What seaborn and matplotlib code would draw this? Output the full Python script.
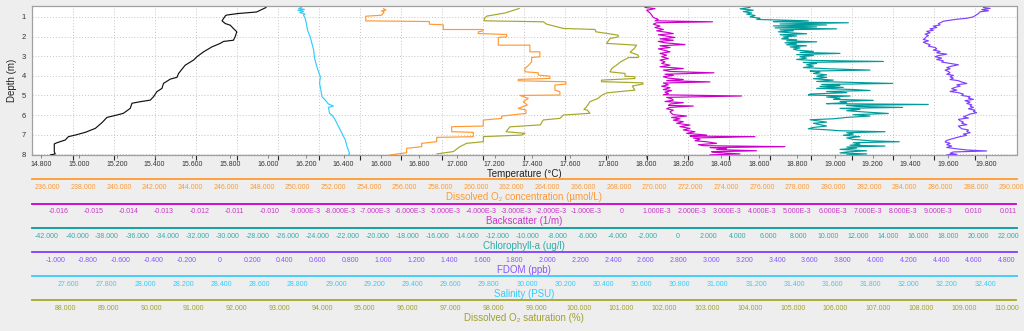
import numpy as np
import matplotlib
matplotlib.use("Agg")
import matplotlib.pyplot as plt
from matplotlib.ticker import FuncFormatter
import seaborn as sns

# ---------------- profile data (depth in m) ----------------
temp_depth = [0.52, 0.75, 0.83, 0.91, 0.95, 1.08, 1.20, 1.34, 1.42, 1.59, 1.76, 2.02, 2.19, 2.25,
              2.35, 2.53, 2.78, 3.03, 3.20, 3.46, 3.66, 3.88, 4.08, 4.17, 4.39, 4.64, 4.81, 5.07,
              5.24, 5.32, 5.40, 5.66, 5.91, 6.00, 6.12, 6.39, 6.68, 6.88, 7.02, 7.10, 7.27, 7.41,
              7.47, 7.87, 7.98, 8.03]
temperature = [15.99, 15.94, 15.84, 15.78, 15.774, 15.765, 15.757, 15.774, 15.80, 15.817, 15.835,
               15.826, 15.817, 15.765, 15.747, 15.703, 15.659, 15.624, 15.606, 15.562, 15.545,
               15.527, 15.518, 15.483, 15.447, 15.439, 15.412, 15.394, 15.377, 15.324, 15.28,
               15.271, 15.235, 15.20, 15.148, 15.121, 15.086, 15.033, 14.98, 14.944, 14.927,
               14.883, 14.869, 14.869, 14.874, 14.848]

sal_depth = [0.52, 0.57, 0.62, 0.66, 0.72, 0.78, 0.85, 0.91, 1.08, 1.34, 1.68, 2.02, 2.35, 2.69,
             3.12, 3.54, 3.80, 4.05, 4.39, 4.73, 5.07, 5.24, 5.44, 5.54, 5.61, 5.91, 6.00, 6.25,
             6.60, 6.93, 7.27, 7.61, 7.95, 8.03]
salinity = [28.82, 28.805, 28.835, 28.80, 28.83, 28.81, 28.838, 28.83, 28.839, 28.845, 28.851,
            28.865, 28.874, 28.883, 28.888, 28.90, 28.909, 28.918, 28.914, 28.921, 28.927,
            28.944, 28.961, 28.987, 28.961, 28.966, 28.979, 28.996, 29.014, 29.031, 29.049,
            29.058, 29.071, 29.066]

o2c_depth = [0.575, 0.65, 0.70, 0.744, 0.914, 0.965, 1.202, 1.236, 1.372, 1.406, 1.643, 1.643,
             1.711, 1.762, 1.847, 1.897, 2.016, 2.050, 2.440, 2.440, 2.779, 2.779, 3.033, 3.067,
             3.288, 3.457, 3.627, 3.796, 3.847, 3.966, 4.017, 4.135, 4.186, 4.254, 4.305, 4.424,
             4.475, 4.729, 4.814, 4.98, 5.00, 5.153, 5.322, 5.492, 5.661, 5.746, 5.916, 6.051,
             6.170, 6.255, 6.560, 6.594, 6.848, 6.882, 7.103, 7.137, 7.357, 7.442, 7.611, 7.696,
             7.917, 8.035]
o2_conc = [254.80, 254.95, 254.70, 254.85, 254.71, 253.82, 253.82, 257.38, 257.38, 258.16,
           258.16, 260.40, 260.40, 260.12, 260.12, 261.71, 261.71, 261.24, 261.24, 263.01,
           263.01, 263.57, 263.57, 263.11, 263.11, 262.95, 262.73, 262.73, 263.48, 263.48,
           264.13, 264.13, 262.36, 262.36, 265.03, 265.03, 264.41, 264.41, 264.69, 264.69,
           262.45, 262.92, 262.64, 262.86, 262.36, 262.79, 262.79, 261.43, 261.43, 260.40,
           260.40, 258.63, 258.63, 259.84, 259.84, 257.79, 257.79, 256.95, 256.95, 256.11,
           256.11, 255.18]

o2s_depth = [0.57, 0.80, 0.96, 1.08, 1.20, 1.25, 1.37, 1.59, 1.64, 1.76, 1.93, 2.02, 2.10, 2.35,
             2.44, 2.60, 2.80, 2.95, 3.07, 3.07, 3.29, 3.46, 3.63, 3.80, 3.88, 4.02, 4.05, 4.14,
             4.22, 4.30, 4.36, 4.42, 4.52, 4.73, 4.87, 5.00, 5.15, 5.32, 5.58, 5.71, 5.75, 5.91,
             6.00, 6.17, 6.25, 6.50, 6.60, 6.85, 6.93, 7.02, 7.10, 7.36, 7.44, 7.61, 7.86, 7.98]
o2_sat = [98.61, 98.28, 97.85, 97.79, 97.79, 99.17, 99.25, 99.64, 100.38, 100.40, 100.92, 100.92,
          100.73, 100.65, 101.35, 101.30, 101.20, 101.39, 101.39, 101.16, 100.98, 100.88, 100.77,
          100.73, 101.08, 101.08, 101.31, 101.31, 100.53, 100.53, 101.50, 101.50, 101.25, 101.31,
          100.65, 100.53, 100.45, 100.26, 100.18, 100.12, 100.20, 100.26, 99.64, 99.56, 99.17,
          99.10, 98.39, 98.30, 98.74, 98.66, 97.77, 97.77, 97.38, 97.22, 97.07, 96.68]

bs_depth = [0.52, 0.58, 0.66, 0.80, 0.91, 1.03, 1.13, 1.20, 1.25, 1.30, 1.37, 1.47, 1.54, 1.64,
            1.71, 1.80, 1.85, 1.91, 1.98, 2.05, 2.12, 2.19, 2.25, 2.32, 2.41, 2.47, 2.56, 2.63,
            2.69, 2.78, 2.86, 2.95, 3.03, 3.12, 3.20, 3.29, 3.37, 3.46, 3.54, 3.63, 3.71, 3.78,
            3.85, 3.92, 3.98, 4.05, 4.12, 4.19, 4.25, 4.31, 4.37, 4.46, 4.53, 4.61, 4.70, 4.76,
            4.83, 4.90, 4.97, 5.03, 5.10, 5.17, 5.24, 5.31, 5.37, 5.44, 5.51, 5.54, 5.61, 5.68,
            5.75, 5.83, 5.92, 5.98, 6.05, 6.12, 6.19, 6.26, 6.34, 6.42, 6.51, 6.59, 6.68, 6.76,
            6.85, 6.93, 7.02, 7.07, 7.10, 7.17, 7.24, 7.31, 7.36, 7.44, 7.51, 7.56, 7.61, 7.66,
            7.71, 7.76, 7.82, 7.87, 7.92, 7.98, 8.03]
bs_milli = [0.668, 0.952, 0.715, 0.810, 0.857, 0.904, 1.046, 0.952, 2.590, 0.999, 0.904, 1.094,
            0.952, 1.189, 0.999, 1.331, 1.473, 1.046, 1.283, 1.520, 1.094, 1.473, 1.046, 1.236,
            1.804, 1.094, 1.378, 1.046, 1.189, 1.378, 1.094, 1.283, 1.141, 1.331, 1.094, 1.236,
            1.141, 1.378, 1.094, 1.757, 1.189, 1.378, 2.628, 1.236, 1.473, 1.189, 1.331, 1.757,
            1.283, 2.514, 1.189, 1.331, 1.141, 1.378, 1.189, 1.425, 1.236, 1.331, 1.189, 3.414,
            1.283, 1.425, 1.473, 1.236, 1.757, 1.378, 1.331, 2.041, 1.378, 1.283, 1.473, 1.378,
            1.425, 1.473, 1.851, 1.425, 1.662, 1.473, 1.757, 1.567, 1.946, 1.662, 1.946, 1.757,
            2.088, 1.851, 2.420, 1.946, 3.793, 2.041, 2.230, 2.088, 2.420, 2.704, 2.183, 2.325,
            4.645, 2.514, 2.988, 2.704, 3.840, 2.562, 2.798, 3.367, 2.514]
backscatter = np.array(bs_milli) * 1e-3

chl_depth = [0.52, 0.59, 0.66, 0.73, 0.80, 0.86, 0.93, 1.00, 1.07, 1.13, 1.17, 1.20, 1.24, 1.27,
             1.30, 1.36, 1.41, 1.46, 1.51, 1.56, 1.61, 1.66, 1.71, 1.76, 1.81, 1.86, 1.91, 1.97,
             2.02, 2.07, 2.12, 2.17, 2.22, 2.27, 2.32, 2.37, 2.42, 2.47, 2.53, 2.58, 2.64, 2.69,
             2.76, 2.81, 2.86, 2.92, 2.97, 3.03, 3.10, 3.17, 3.22, 3.27, 3.32, 3.37, 3.44, 3.51,
             3.58, 3.64, 3.71, 3.76, 3.81, 3.88, 3.95, 4.02, 4.08, 4.15, 4.22, 4.29, 4.34, 4.39,
             4.44, 4.49, 4.54, 4.59, 4.64, 4.70, 4.75, 4.80, 4.86, 4.93, 4.98, 5.03, 5.08, 5.14,
             5.20, 5.25, 5.31, 5.37, 5.42, 5.46, 5.51, 5.56, 5.61, 5.66, 5.71, 5.78, 5.85, 5.92,
             5.98, 6.05, 6.12, 6.19, 6.24, 6.29, 6.36, 6.42, 6.49, 6.56, 6.63, 6.70, 6.75, 6.80,
             6.85, 6.90, 6.97, 7.03, 7.10, 7.17, 7.24, 7.31, 7.36, 7.41, 7.48, 7.54, 7.58, 7.63,
             7.68, 7.75, 7.82, 7.88, 7.93, 7.98, 8.03]
chlorophyll = [4.79, 4.13, 5.01, 4.35, 4.90, 4.57, 5.13, 4.79, 5.46, 5.24, 7.23, 8.67, 6.35, 7.90,
               11.34, 6.79, 9.89, 6.35, 9.23, 6.46, 10.56, 6.79, 7.68, 6.68, 7.46, 8.56, 6.79,
               7.90, 7.01, 7.34, 6.90, 7.90, 7.23, 9.23, 7.12, 7.90, 7.23, 8.56, 7.46, 8.12, 7.68,
               7.90, 9.01, 8.12, 10.78, 7.90, 9.01, 8.12, 8.56, 7.90, 9.01, 13.67, 8.34, 9.23,
               8.56, 9.01, 8.34, 9.89, 12.78, 8.79, 9.45, 9.01, 9.89, 9.23, 9.89, 9.01, 10.34,
               9.23, 11.67, 14.29, 9.56, 10.78, 9.45, 11.00, 9.23, 11.67, 12.78, 9.89, 11.23, 8.79,
               8.67, 11.45, 9.89, 10.78, 10.34, 13.00, 10.78, 11.23, 9.89, 16.66, 11.23, 11.89,
               14.95, 10.78, 12.11, 11.23, 12.56, 14.00, 11.67, 12.78, 11.23, 10.34, 8.79, 9.23,
               9.89, 9.01, 9.45, 9.89, 9.01, 8.67, 9.89, 10.78, 13.78, 11.23, 11.67, 11.00, 12.11,
               11.23, 11.67, 12.78, 14.73, 11.67, 12.11, 11.45, 13.78, 11.23, 11.89, 10.78, 12.56,
               11.23, 10.78, 12.56, 11.23]

fdom_depth = [0.52, 0.57, 0.63, 0.69, 0.74, 0.83, 0.91, 1.00, 1.07, 1.12, 1.17, 1.22, 1.27, 1.34,
              1.41, 1.47, 1.54, 1.61, 1.68, 1.74, 1.81, 1.88, 1.95, 2.02, 2.08, 2.15, 2.22, 2.29,
              2.36, 2.42, 2.49, 2.56, 2.63, 2.69, 2.76, 2.83, 2.90, 2.97, 3.03, 3.10, 3.17, 3.24,
              3.30, 3.37, 3.44, 3.51, 3.58, 3.64, 3.71, 3.78, 3.85, 3.92, 3.98, 4.05, 4.12, 4.19,
              4.25, 4.32, 4.39, 4.46, 4.53, 4.59, 4.66, 4.73, 4.80, 4.86, 4.93, 5.00, 5.07, 5.14,
              5.20, 5.27, 5.34, 5.41, 5.48, 5.54, 5.61, 5.68, 5.75, 5.81, 5.88, 5.95, 6.02, 6.09,
              6.15, 6.22, 6.29, 6.36, 6.42, 6.49, 6.56, 6.63, 6.70, 6.76, 6.83, 6.90, 6.97, 7.03,
              7.10, 7.17, 7.24, 7.31, 7.37, 7.44, 7.51, 7.58, 7.65, 7.71, 7.78, 7.83, 7.88, 7.95,
              8.00, 8.03]
fdom = [4.657, 4.698, 4.647, 4.688, 4.637, 4.627, 4.612, 4.596, 4.556, 4.495, 4.454, 4.413, 4.403,
        4.383, 4.393, 4.352, 4.373, 4.332, 4.352, 4.312, 4.332, 4.302, 4.322, 4.308, 4.302, 4.291,
        4.322, 4.291, 4.312, 4.332, 4.322, 4.363, 4.373, 4.352, 4.393, 4.373, 4.434, 4.383, 4.363,
        4.403, 4.373, 4.413, 4.403, 4.454, 4.505, 4.464, 4.434, 4.454, 4.424, 4.444, 4.454, 4.434,
        4.474, 4.454, 4.474, 4.454, 4.505, 4.525, 4.556, 4.495, 4.515, 4.484, 4.464, 4.495, 4.454,
        4.505, 4.535, 4.525, 4.576, 4.566, 4.596, 4.545, 4.576, 4.556, 4.586, 4.576, 4.596, 4.566,
        4.606, 4.596, 4.616, 4.576, 4.556, 4.535, 4.566, 4.505, 4.515, 4.535, 4.525, 4.556, 4.505,
        4.515, 4.525, 4.566, 4.556, 4.576, 4.535, 4.556, 4.515, 4.484, 4.454, 4.430, 4.424, 4.454,
        4.434, 4.464, 4.434, 4.484, 4.556, 4.677, 4.474, 4.454, 4.495, 4.434]

# ---------------- axis ranges and ticks ----------------
depth_range = (8.035, 0.42)
depth_ticks = [1, 2, 3, 4, 5, 6, 7, 8]
grid_divisions = 24

temp_range, temp_ticks = (14.751, 19.962), (14.8, 19.8, 0.2)
o2c_range, o2c_ticks = (235.13, 290.26), (236, 290, 2)
bs_range, bs_ticks = (-0.016756, 0.011227), (-0.016, 0.011, 0.001)
chl_range, chl_ticks = (-43.0, 22.53), (-42, 22, 2)
fdom_range, fdom_ticks = (-1.142, 4.859), (-1.0, 4.8, 0.2)
sal_range, sal_ticks = (27.408, 32.564), (27.6, 32.4, 0.2)
o2s_range, o2s_ticks = (87.22, 110.23), (88, 110, 1)

C_TEMP, C_SAL, C_O2C = "#111111", "#33ccff", "#ff9933"
C_O2S, C_BS, C_CHL, C_FDOM = "#a6a628", "#cc00cc", "#009b9b", "#8040ff"

sns.set_style("white")
plt.rcParams["font.family"] = ["Liberation Sans", "DejaVu Sans"]

W, H = 1024, 331
fig = plt.figure(figsize=(W / 100, H / 100), dpi=100, facecolor="#eeeeee")
L_PX, R_PX, T_PX, B_PX = 32, 1016.5, 5.5, 155


def fx(px):
    return px / W


def fy(py):
    return 1 - py / H


def tick_values(spec):
    a, b, s = spec
    n = int(round((b - a) / s))
    return np.round(a + s * np.arange(n + 1), 6)


def fmt_plain(v, _pos=None):
    return "0" if abs(v) < 1e-9 else f"{v:.3f}"


def fmt_backscatter(v, _pos=None):
    if abs(v) < 1e-9:
        return "0"
    if abs(v) < 0.0095:
        return f"{v * 1000:.3f}E-3"
    return f"{v:.3f}"


# host axes: white plot area with the evenly spaced dotted grid
ax = fig.add_axes([fx(L_PX), fy(B_PX), fx(R_PX - L_PX), (B_PX - T_PX) / H])
ax.set_facecolor("white")
ax.set_xlim(0, grid_divisions)
ax.set_xticks(np.arange(1, grid_divisions))
ax.tick_params(axis="x", bottom=False, labelbottom=False)
ax.set_yticks(depth_ticks)
ax.tick_params(axis="y", length=2.5, width=0.6, color="#777777", labelsize=5.5,
               labelcolor="#333333", pad=2)
ax.grid(True, color="#c4c4c4", linestyle=(0, (1, 2)), linewidth=0.7)
for sp in ax.spines.values():
    sp.set_color("#a0a0a0")
    sp.set_linewidth(0.9)
ax.set_ylabel("Depth (m)", fontsize=7, color="#222222", labelpad=3)

series = [
    (temp_depth, temperature, C_TEMP, temp_range),
    (sal_depth, salinity, C_SAL, sal_range),
    (o2c_depth, o2_conc, C_O2C, o2c_range),
    (o2s_depth, o2_sat, C_O2S, o2s_range),
    (bs_depth, backscatter, C_BS, bs_range),
    (chl_depth, chlorophyll, C_CHL, chl_range),
    (fdom_depth, fdom, C_FDOM, fdom_range),
]

twins = []
for depth, vals, col, lim in series:
    tw = ax.twiny()
    sns.lineplot(x=np.asarray(vals, dtype=float), y=np.asarray(depth, dtype=float), ax=tw,
                 sort=False, estimator=None, color=col, linewidth=0.85)
    tw.set_xlim(lim)
    tw.set_xlabel("")
    tw.set_ylabel("")
    for sp in tw.spines.values():
        sp.set_visible(False)
    tw.tick_params(axis="x", top=False, labeltop=False, bottom=False, labelbottom=False)
    twins.append(tw)
ax.set_ylim(depth_range)

# temperature scale along the bottom of the plot
t_ax = twins[0]
t_ax.xaxis.set_ticks_position("bottom")
t_ax.xaxis.set_label_position("bottom")
t_ax.set_xticks(tick_values(temp_ticks))
t_ax.xaxis.set_major_formatter(FuncFormatter(fmt_plain))
t_ax.tick_params(axis="x", bottom=True, labelbottom=True, length=2.5, width=0.6,
                 color="#777777", labelsize=5, labelcolor="#333333", pad=2)
t_ax.set_xlabel("Temperature (°C)", fontsize=7, color="#222222", labelpad=0.5)
t_ax.set_xlim(temp_range)

# stacked colour scales beneath the plot
scales = [
    (179, o2c_range, o2c_ticks, C_O2C, "#ff9933", "Dissolved O\u2082 concentration (\u00b5mol/L)", fmt_plain),
    (203.5, bs_range, bs_ticks, C_BS, "#cc33cc", "Backscatter (1/m)", fmt_backscatter),
    (228, chl_range, chl_ticks, C_CHL, "#33aaaa", "Chlorophyll-a (ug/l)", fmt_plain),
    (252, fdom_range, fdom_ticks, C_FDOM, "#8855ff", "FDOM (ppb)", fmt_plain),
    (276, sal_range, sal_ticks, C_SAL, "#33ccff", "Salinity (PSU)", fmt_plain),
    (300, o2s_range, o2s_ticks, C_O2S, "#a0a030", "Dissolved O\u2082 saturation (%)", fmt_plain),
]
for y_px, lim, tspec, col, tcol, title, fmt in scales:
    sax = fig.add_axes([fx(L_PX), fy(y_px), fx(R_PX - L_PX), 1e-4])
    sax.patch.set_alpha(0)
    sax.set_xlim(lim)
    sax.set_yticks([])
    for name in ("top", "left", "right"):
        sax.spines[name].set_visible(False)
    sax.spines["bottom"].set_color(col)
    sax.spines["bottom"].set_linewidth(1.3)
    sax.set_xticks(tick_values(tspec))
    sax.xaxis.set_major_formatter(FuncFormatter(fmt))
    sax.tick_params(axis="x", length=2, width=0.6, color=col, labelsize=5,
                    labelcolor=tcol, pad=1.5)
    sax.set_xlabel(title, fontsize=7, color=tcol, labelpad=0.5)
    sax.set_xlim(lim)

fig.savefig("out.png", dpi=100, facecolor=fig.get_facecolor())
